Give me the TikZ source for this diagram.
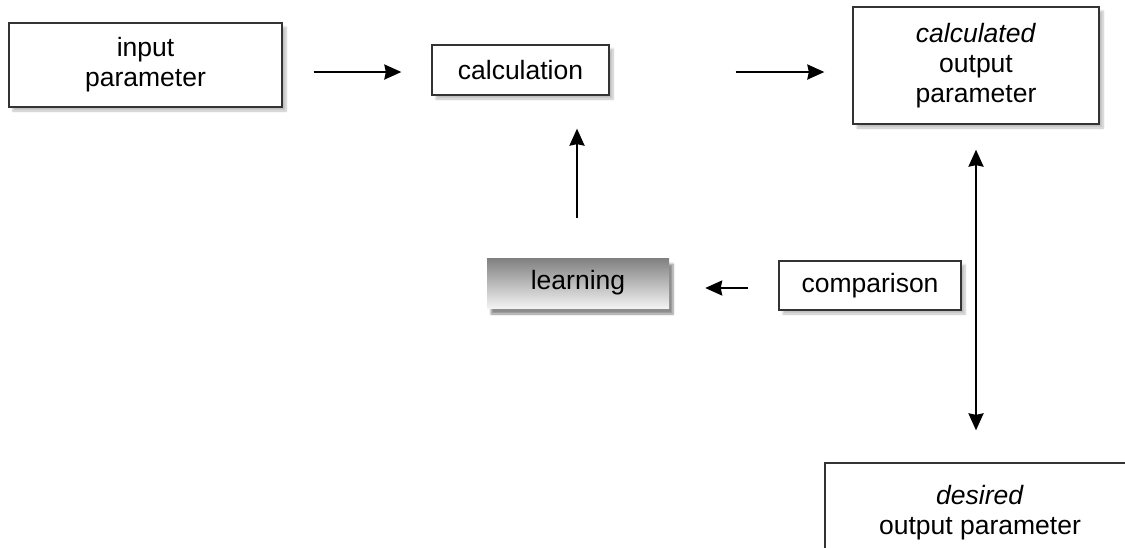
\documentclass[tikz,border=0pt]{standalone}
\usepackage{fontspec}
\setmainfont{Liberation Sans}
\usetikzlibrary{arrows.meta,shadows.blur,calc}
\definecolor{edge}{HTML}{333333}
\tikzset{
  box/.style={draw=edge, line width=1.3pt, fill=white, align=center, inner sep=0pt,
    font=\fontsize{26.5}{30}\selectfont,
    blur shadow={shadow xshift=4pt, shadow yshift=-4pt, shadow blur steps=6, shadow opacity=25}},
  gradbox/.style={align=center, inner sep=0pt, font=\fontsize{26.5}{30}\selectfont,
    top color=black!50, bottom color=white!95!black,
    blur shadow={shadow xshift=4pt, shadow yshift=-6pt, shadow blur steps=6, shadow opacity=45}},
  arr/.style={line width=2.2pt, -{Stealth[length=17pt,width=15pt,inset=1.5pt]}},
  darr/.style={line width=2.2pt, {Stealth[length=17pt,width=15pt,inset=1.5pt]}-{Stealth[length=17pt,width=15pt,inset=1.5pt]}}
}
\begin{document}
\begin{tikzpicture}[x=1pt,y=-1pt]
\useasboundingbox (0,0) rectangle (1125,547);
\begin{scope}
\clip (0,0) rectangle (1125,547);
\node[box, minimum width=273pt, minimum height=84pt] (input) at (145.5,65) {input\\parameter};
\node[box, minimum width=177pt, minimum height=50pt] (calc) at (520.5,70) {calculation};
\node[box, minimum width=246pt, minimum height=117pt] (out) at (976,65.5) {\textit{calculated}\\output\\parameter};
\node[gradbox, minimum width=182pt, minimum height=50pt] (learn) at (578,283) {learning};
\node[box, minimum width=182pt, minimum height=49pt] (comp) at (870,285.5) {comparison};
\node[box, minimum width=310pt, minimum height=100pt] (des) at (980,513) {\textit{desired}\\output parameter};
\coordinate (r1) at (0,72);
\coordinate (r2) at (0,288);
\coordinate (c1) at (577,0);
\coordinate (c2) at (976,0);
\draw[arr, shorten <=31pt, shorten >=30pt] (input.east |- r1) -- (calc.west |- r1);
\draw[arr, shorten <=126pt, shorten >=28pt] (calc.east |- r1) -- (out.west |- r1);
\draw[arr, shorten <=40pt, shorten >=33pt] (learn.north -| c1) -- (calc.south -| c1);
\draw[arr, shorten <=30pt, shorten >=36pt] (comp.west |- r2) -- (learn.east |- r2);
\draw[darr, shorten <=25pt, shorten >=32pt] (out.south -| c2) -- (des.north -| c2);
\end{scope}
\end{tikzpicture}
\end{document}
